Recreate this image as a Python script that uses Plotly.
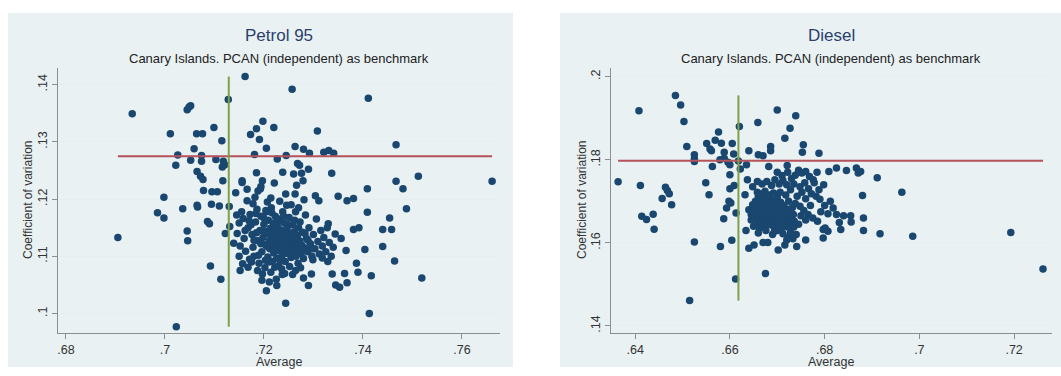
import plotly.graph_objects as go

# ---------------- data ----------------
petrol_avg_outer = [0.6905, 0.6934, 0.7045, 0.7049, 0.7052, 0.7162, 0.7128, 0.7257, 0.7411, 0.7011,
                    0.7064, 0.7076, 0.7099, 0.7115, 0.7198, 0.7185, 0.7173, 0.7191, 0.7220, 0.7308,
                    0.7205, 0.7263, 0.7280, 0.7292, 0.7321, 0.7331, 0.7341, 0.7467, 0.7059, 0.7074,
                    0.7026, 0.7052, 0.7074, 0.7022, 0.7103, 0.7118, 0.7121, 0.7116, 0.7065, 0.7072,
                    0.7077, 0.7078, 0.7117, 0.7095, 0.7106, 0.7181, 0.7227, 0.7245, 0.7268, 0.7272,
                    0.7276, 0.7260, 0.7238, 0.7185, 0.7156, 0.7156, 0.7197, 0.7194, 0.7221, 0.7290,
                    0.7266, 0.7279, 0.7337, 0.7143, 0.7166, 0.7188, 0.7193, 0.7244, 0.7263, 0.7304,
                    0.7311, 0.7281, 0.7350, 0.7381, 0.7368, 0.7409, 0.7467, 0.7481, 0.7512, 0.7661,
                    0.7488, 0.7409, 0.7454, 0.7440, 0.7458, 0.7440, 0.7464, 0.7404, 0.7392, 0.7381,
                    0.7387, 0.7390, 0.7417, 0.7519, 0.7413, 0.7244, 0.7205, 0.7023, 0.6998, 0.6985,
                    0.6998, 0.7036, 0.7045, 0.7046, 0.7065, 0.7066, 0.7094, 0.7110, 0.7130, 0.7086,
                    0.7090, 0.7122, 0.7131, 0.7092, 0.7113, 0.7152, 0.7299, 0.7290, 0.7296, 0.7318,
                    0.7329, 0.7338, 0.7345, 0.7353, 0.7363, 0.7368, 0.7344, 0.7356, 0.7366, 0.7330,
                    0.7237, 0.7226, 0.7211]
petrol_cv_outer = [0.1133, 0.1349, 0.1356, 0.1361, 0.1363, 0.1414, 0.1374, 0.1392, 0.1376, 0.1314,
                   0.1314, 0.1314, 0.1325, 0.1302, 0.1336, 0.1323, 0.1313, 0.1304, 0.1325, 0.1319,
                   0.1289, 0.1292, 0.1287, 0.1280, 0.1282, 0.1285, 0.1280, 0.1295, 0.1288, 0.1276,
                   0.1277, 0.1268, 0.1266, 0.1259, 0.1269, 0.1266, 0.1260, 0.1256, 0.1248, 0.1240,
                   0.1234, 0.1215, 0.1232, 0.1213, 0.1213, 0.1278, 0.1270, 0.1276, 0.1262, 0.1259,
                   0.1245, 0.1244, 0.1247, 0.1246, 0.1232, 0.1229, 0.1232, 0.1222, 0.1228, 0.1252,
                   0.1224, 0.1232, 0.1245, 0.1211, 0.1217, 0.1214, 0.1218, 0.1209, 0.1209, 0.1206,
                   0.1197, 0.1199, 0.1205, 0.1201, 0.1197, 0.1218, 0.1231, 0.1218, 0.1240, 0.1231,
                   0.1183, 0.1177, 0.1167, 0.1147, 0.1147, 0.1117, 0.1092, 0.1112, 0.1150, 0.1147,
                   0.1088, 0.1072, 0.1066, 0.1062, 0.1000, 0.1018, 0.1040, 0.0977, 0.1203, 0.1176,
                   0.1167, 0.1183, 0.1144, 0.1127, 0.1189, 0.1186, 0.1191, 0.1188, 0.1187, 0.1161,
                   0.1157, 0.1140, 0.1152, 0.1083, 0.1060, 0.1075, 0.1094, 0.1049, 0.1069, 0.1097,
                   0.1091, 0.1069, 0.1050, 0.1046, 0.1070, 0.1054, 0.1139, 0.1131, 0.1110, 0.1157,
                   0.1068, 0.1049, 0.1055]

petrol_avg_core = [0.7150, 0.7158, 0.7146, 0.7139, 0.7152, 0.7163, 0.7160, 0.7168, 0.7172, 0.7176,
                   0.7178, 0.7180, 0.7183, 0.7186, 0.7188, 0.7190, 0.7192, 0.7194, 0.7196, 0.7198,
                   0.7200, 0.7202, 0.7203, 0.7205, 0.7206, 0.7208, 0.7209, 0.7211, 0.7212, 0.7213,
                   0.7215, 0.7216, 0.7217, 0.7218, 0.7219, 0.7220, 0.7221, 0.7222, 0.7223, 0.7224,
                   0.7226, 0.7227, 0.7228, 0.7229, 0.7230, 0.7231, 0.7232, 0.7233, 0.7234, 0.7236,
                   0.7237, 0.7238, 0.7239, 0.7240, 0.7241, 0.7242, 0.7243, 0.7244, 0.7245, 0.7246,
                   0.7247, 0.7248, 0.7249, 0.7250, 0.7251, 0.7252, 0.7253, 0.7254, 0.7255, 0.7256,
                   0.7257, 0.7258, 0.7259, 0.7260, 0.7261, 0.7262, 0.7264, 0.7265, 0.7266, 0.7268,
                   0.7269, 0.7270, 0.7272, 0.7273, 0.7275, 0.7276, 0.7278, 0.7280, 0.7282, 0.7284,
                   0.7286, 0.7288, 0.7291, 0.7294, 0.7297, 0.7300, 0.7303, 0.7306, 0.7309, 0.7312,
                   0.7315, 0.7318, 0.7321, 0.7325, 0.7328, 0.7332, 0.7336, 0.7340,
                   0.7166, 0.7178, 0.7182, 0.7207, 0.7214, 0.7232, 0.7246, 0.7255, 0.7264, 0.7270,
                   0.7150, 0.7157, 0.7168, 0.7175, 0.7187, 0.7197, 0.7214, 0.7222, 0.7236, 0.7252,
                   0.7258, 0.7264, 0.7274, 0.7280, 0.7196, 0.7210, 0.7225, 0.7242,
                   0.7207, 0.7214, 0.7219, 0.7225, 0.7231, 0.7236, 0.7243, 0.7247, 0.7251, 0.7256,
                   0.7261, 0.7266, 0.7272, 0.7201, 0.7212, 0.7229, 0.7194, 0.7185, 0.7180, 0.7174,
                   0.7145, 0.7155, 0.7162, 0.7170, 0.7184, 0.7199, 0.7204, 0.7216, 0.7228, 0.7240,
                   0.7250, 0.7262, 0.7270, 0.7283, 0.7289, 0.7296, 0.7171, 0.7189, 0.7203, 0.7233]
petrol_cv_core = [0.1158, 0.1166, 0.1140, 0.1123, 0.1118, 0.1109, 0.1131, 0.1150, 0.1173, 0.1138,
                  0.1116, 0.1100, 0.1160, 0.1182, 0.1127, 0.1088, 0.1145, 0.1170, 0.1108, 0.1133,
                  0.1156, 0.1080, 0.1120, 0.1178, 0.1140, 0.1099, 0.1163, 0.1127, 0.1113, 0.1149,
                  0.1185, 0.1135, 0.1091, 0.1120, 0.1158, 0.1106, 0.1143, 0.1130, 0.1170, 0.1115,
                  0.1097, 0.1152, 0.1125, 0.1138, 0.1084, 0.1110, 0.1165, 0.1131, 0.1146, 0.1119,
                  0.1102, 0.1178, 0.1136, 0.1124, 0.1158, 0.1112, 0.1091, 0.1141, 0.1129, 0.1117,
                  0.1150, 0.1105, 0.1133, 0.1122, 0.1168, 0.1112, 0.1140, 0.1127, 0.1098, 0.1118,
                  0.1134, 0.1155, 0.1109, 0.1124, 0.1143, 0.1116, 0.1130, 0.1100, 0.1121, 0.1137,
                  0.1088, 0.1112, 0.1127, 0.1160, 0.1105, 0.1120, 0.1142, 0.1096, 0.1115, 0.1172,
                  0.1131, 0.1108, 0.1150, 0.1122, 0.1100, 0.1138, 0.1113, 0.1165, 0.1126, 0.1104,
                  0.1145, 0.1118, 0.1133, 0.1108, 0.1150, 0.1124, 0.1100, 0.1116,
                  0.1197, 0.1192, 0.1203, 0.1195, 0.1202, 0.1196, 0.1189, 0.1190, 0.1178, 0.1185,
                  0.1100, 0.1087, 0.1081, 0.1090, 0.1075, 0.1069, 0.1072, 0.1081, 0.1078, 0.1082,
                  0.1068, 0.1075, 0.1080, 0.1062, 0.1058, 0.1090, 0.1060, 0.1070,
                  0.1117, 0.1124, 0.1111, 0.1137, 0.1121, 0.1129, 0.1118, 0.1126, 0.1134, 0.1111,
                  0.1128, 0.1114, 0.1119, 0.1144, 0.1138, 0.1148, 0.1122, 0.1141, 0.1128, 0.1155,
                  0.1172, 0.1178, 0.1145, 0.1162, 0.1175, 0.1168, 0.1180, 0.1176, 0.1160, 0.1170,
                  0.1155, 0.1163, 0.1150, 0.1140, 0.1128, 0.1113, 0.1095, 0.1102, 0.1093, 0.1093]

diesel_avg_outer = [0.6364, 0.6408, 0.6411, 0.6414, 0.6424, 0.6438, 0.6440, 0.6457, 0.6464, 0.6468,
                    0.6472, 0.6477, 0.6485, 0.6496, 0.6503, 0.6509, 0.6525, 0.6525, 0.6525, 0.6525,
                    0.6515, 0.6549, 0.6551, 0.6556, 0.6558, 0.6561, 0.6563, 0.6569, 0.6576, 0.6582,
                    0.6587, 0.6580, 0.6588, 0.6588, 0.6579, 0.6596, 0.6600, 0.6600, 0.6605, 0.6608,
                    0.6600, 0.6609, 0.6593, 0.6598, 0.6602, 0.6613, 0.6604, 0.6612, 0.6620, 0.6618,
                    0.6622, 0.6635, 0.6640, 0.6637, 0.6632, 0.6634, 0.6640, 0.6651, 0.6660, 0.6670,
                    0.6659, 0.6660, 0.6670, 0.6680, 0.6675, 0.6700, 0.6739, 0.6727, 0.6716, 0.6686,
                    0.6686, 0.6682, 0.6721, 0.6755, 0.6753, 0.6788, 0.6702, 0.6716, 0.6720, 0.6741,
                    0.6760, 0.6797, 0.6797, 0.6801, 0.6807, 0.6818, 0.6809, 0.6825, 0.6825, 0.6831,
                    0.6834, 0.6846, 0.6867, 0.6871, 0.6876, 0.6880, 0.6882, 0.6882, 0.6911, 0.6917,
                    0.6963, 0.6986, 0.7193, 0.7261]
diesel_cv_outer = [0.1747, 0.1918, 0.1738, 0.1664, 0.1656, 0.1669, 0.1633, 0.1707, 0.1734, 0.1726,
                   0.1718, 0.1692, 0.1955, 0.1932, 0.1892, 0.1832, 0.1812, 0.1802, 0.1796, 0.1602,
                   0.1461, 0.1745, 0.1839, 0.1716, 0.1826, 0.1822, 0.1784, 0.1847, 0.1867, 0.1840,
                   0.1658, 0.1591, 0.1818, 0.1804, 0.1800, 0.1794, 0.1788, 0.1764, 0.1839, 0.1814,
                   0.1730, 0.1738, 0.1684, 0.1700, 0.1696, 0.1672, 0.1606, 0.1513, 0.1880, 0.1797,
                   0.1778, 0.1788, 0.1822, 0.1752, 0.1716, 0.1630, 0.1587, 0.1595, 0.1812, 0.1810,
                   0.1890, 0.1624, 0.1601, 0.1601, 0.1526, 0.1920, 0.1906, 0.1876, 0.1852, 0.1832,
                   0.1822, 0.1784, 0.1786, 0.1836, 0.1818, 0.1816, 0.1583, 0.1595, 0.1607, 0.1591,
                   0.1607, 0.1612, 0.1632, 0.1636, 0.1670, 0.1684, 0.1772, 0.1780, 0.1668, 0.1649,
                   0.1632, 0.1774, 0.1780, 0.1768, 0.1772, 0.1714, 0.1660, 0.1630, 0.1757, 0.1622,
                   0.1722, 0.1616, 0.1625, 0.1537]

diesel_avg_mid = [0.6700, 0.6710, 0.6722, 0.6730, 0.6738, 0.6745, 0.6752, 0.6760, 0.6768, 0.6776,
                  0.6784, 0.6778, 0.6735, 0.6748, 0.6758, 0.6766, 0.6772, 0.6782, 0.6790, 0.6752,
                  0.6742, 0.6760, 0.6728, 0.6720, 0.6712, 0.6704, 0.6695, 0.6688, 0.6678, 0.6668,
                  0.6658, 0.6648, 0.6738, 0.6748, 0.6756, 0.6765, 0.6775, 0.6785, 0.6770, 0.6792,
                  0.6760, 0.6750, 0.6745, 0.6735, 0.6728, 0.6740, 0.6733, 0.6725, 0.6712, 0.6690,
                  0.6700, 0.6650, 0.6645, 0.6800, 0.6788, 0.6798, 0.6812, 0.6840, 0.6855, 0.6856,
                  0.6807]
diesel_cv_mid = [0.1770, 0.1762, 0.1770, 0.1755, 0.1763, 0.1775, 0.1768, 0.1772, 0.1760, 0.1752,
                 0.1770, 0.1745, 0.1742, 0.1735, 0.1745, 0.1730, 0.1718, 0.1712, 0.1705, 0.1722,
                 0.1712, 0.1706, 0.1728, 0.1740, 0.1750, 0.1742, 0.1752, 0.1738, 0.1748, 0.1742,
                 0.1748, 0.1735, 0.1695, 0.1688, 0.1678, 0.1668, 0.1660, 0.1652, 0.1690, 0.1675,
                 0.1655, 0.1665, 0.1645, 0.1638, 0.1625, 0.1620, 0.1610, 0.1615, 0.1622, 0.1620,
                 0.1630, 0.1640, 0.1655, 0.1690, 0.1728, 0.1740, 0.1700, 0.1665, 0.1665, 0.1650,
                 0.1628]

diesel_avg_core = [0.6640, 0.6645, 0.6648, 0.6650, 0.6652, 0.6654, 0.6656, 0.6658, 0.6659, 0.6660,
                   0.6661, 0.6662, 0.6663, 0.6664, 0.6665, 0.6666, 0.6667, 0.6668, 0.6669, 0.6670,
                   0.6671, 0.6672, 0.6673, 0.6674, 0.6675, 0.6676, 0.6677, 0.6678, 0.6679, 0.6680,
                   0.6681, 0.6682, 0.6683, 0.6684, 0.6685, 0.6686, 0.6687, 0.6688, 0.6689, 0.6690,
                   0.6691, 0.6692, 0.6693, 0.6695, 0.6696, 0.6697, 0.6698, 0.6700, 0.6701, 0.6702,
                   0.6704, 0.6705, 0.6707, 0.6708, 0.6710, 0.6711, 0.6713, 0.6714, 0.6716, 0.6717,
                   0.6719, 0.6720, 0.6722, 0.6724, 0.6726, 0.6728, 0.6730, 0.6732, 0.6734, 0.6736,
                   0.6662, 0.6676, 0.6694, 0.6710, 0.6722, 0.6658, 0.6674, 0.6692, 0.6706, 0.6718]
diesel_cv_core = [0.1680, 0.1668, 0.1692, 0.1675, 0.1660, 0.1700, 0.1685, 0.1670, 0.1652, 0.1712,
                  0.1692, 0.1678, 0.1664, 0.1645, 0.1705, 0.1686, 0.1672, 0.1658, 0.1718, 0.1695,
                  0.1680, 0.1666, 0.1650, 0.1638, 0.1706, 0.1690, 0.1675, 0.1662, 0.1645, 0.1700,
                  0.1683, 0.1668, 0.1655, 0.1715, 0.1692, 0.1676, 0.1660, 0.1643, 0.1702, 0.1686,
                  0.1670, 0.1656, 0.1640, 0.1695, 0.1678, 0.1664, 0.1650, 0.1710, 0.1688, 0.1672,
                  0.1658, 0.1642, 0.1698, 0.1680, 0.1666, 0.1652, 0.1690, 0.1674, 0.1660, 0.1645,
                  0.1682, 0.1668, 0.1655, 0.1700, 0.1676, 0.1660, 0.1645, 0.1685, 0.1668, 0.1652,
                  0.1635, 0.1630, 0.1628, 0.1635, 0.1638, 0.1722, 0.1724, 0.1720, 0.1722, 0.1715]

# benchmark (PCAN) values
petrol_bench_avg = 0.7129
petrol_bench_cv = 0.1275
diesel_bench_avg = 0.6618
diesel_bench_cv = 0.1798

petrol_xticks = [0.68, 0.70, 0.72, 0.74, 0.76]
petrol_xlabels = [".68", ".7", ".72", ".74", ".76"]
petrol_yticks = [0.10, 0.11, 0.12, 0.13, 0.14]
petrol_ylabels = [".1", ".11", ".12", ".13", ".14"]
diesel_xticks = [0.64, 0.66, 0.68, 0.70, 0.72]
diesel_xlabels = [".64", ".66", ".68", ".7", ".72"]
diesel_yticks = [0.14, 0.16, 0.18, 0.20]
diesel_ylabels = [".14", ".16", ".18", ".2"]

titles = ["Petrol 95", "Diesel"]
subtitle = "Canary Islands. PCAN (independent) as benchmark"

# ---------------- styling ----------------
W, H = 1061, 376
FONT = "Liberation Sans, Arial, sans-serif"
NAVY = "#1a476f"
RED = "#b5525a"
GREEN = "#7ea04a"
BG = "#e9f1f3"
AXIS = "#8a8f94"
GRID = "#e6eef1"

def px(x):
    return x / W

def py(y):
    return 1 - y / H

petrol_x = petrol_avg_outer + petrol_avg_core
petrol_y = petrol_cv_outer + petrol_cv_core
diesel_x = diesel_avg_outer + diesel_avg_mid + diesel_avg_core
diesel_y = diesel_cv_outer + diesel_cv_mid + diesel_cv_core

fig = go.Figure()

panels = [
    dict(x=petrol_x, y=petrol_y, bx=petrol_bench_avg, by=petrol_bench_cv, xa="x", ya="y"),
    dict(x=diesel_x, y=diesel_y, bx=diesel_bench_avg, by=diesel_bench_cv, xa="x2", ya="y2"),
]
for p in panels:
    fig.add_trace(go.Scatter(x=p["x"], y=p["y"], mode="markers", xaxis=p["xa"], yaxis=p["ya"],
                             marker=dict(color=NAVY, size=7.5, line=dict(width=0)),
                             showlegend=False, hoverinfo="x+y"))
    fig.add_trace(go.Scatter(x=[min(p["x"]), max(p["x"])], y=[p["by"], p["by"]], mode="lines",
                             xaxis=p["xa"], yaxis=p["ya"], line=dict(color=RED, width=2),
                             showlegend=False, hoverinfo="skip"))
    fig.add_trace(go.Scatter(x=[p["bx"], p["bx"]], y=[min(p["y"]), max(p["y"])], mode="lines",
                             xaxis=p["xa"], yaxis=p["ya"], line=dict(color=GREEN, width=2),
                             showlegend=False, hoverinfo="skip"))

common_x = dict(showline=True, linecolor=AXIS, linewidth=1, ticks="outside", ticklen=5,
                tickcolor=AXIS, showgrid=False, zeroline=False,
                tickfont=dict(family=FONT, size=12.5, color="#333333"))
common_y = dict(showline=True, linecolor=AXIS, linewidth=1, ticks="outside", ticklen=5,
                tickcolor=AXIS, showgrid=True, gridcolor=GRID, gridwidth=1, zeroline=False,
                tickangle=-90, tickfont=dict(family=FONT, size=12.5, color="#333333"))

fig.update_layout(
    width=W, height=H, margin=dict(l=0, r=0, t=0, b=0),
    paper_bgcolor="white", plot_bgcolor="white", showlegend=False,
    xaxis=dict(domain=[px(58), px(500)], range=[0.6784, 0.7677], anchor="y",
               tickvals=petrol_xticks, ticktext=petrol_xlabels, **common_x),
    yaxis=dict(domain=[py(333), py(68)], range=[0.0966, 0.1429], anchor="x",
               tickvals=petrol_yticks, ticktext=petrol_ylabels, **common_y),
    xaxis2=dict(domain=[px(611), px(1052)], range=[0.6349, 0.7280], anchor="y2",
                tickvals=diesel_xticks, ticktext=diesel_xlabels, **common_x),
    yaxis2=dict(domain=[py(333), py(68)], range=[0.1383, 0.2021], anchor="x2",
                tickvals=diesel_yticks, ticktext=diesel_ylabels, **common_y),
    shapes=[
        dict(type="rect", xref="paper", yref="paper", x0=px(8), x1=px(513), y0=py(367), y1=py(13),
             fillcolor=BG, line=dict(width=0), layer="below"),
        dict(type="rect", xref="paper", yref="paper", x0=px(560), x1=px(1061), y0=py(367), y1=py(13),
             fillcolor=BG, line=dict(width=0), layer="below"),
    ],
)

annotations = []
for cx, ycx, ttl in [(279, 28, titles[0]), (831, 582, titles[1])]:
    annotations.append(dict(text=ttl, x=px(cx), y=py(36), xref="paper", yref="paper",
                            showarrow=False, xanchor="center", yanchor="middle",
                            font=dict(family=FONT, size=17, color="#2b3f6e")))
    annotations.append(dict(text=subtitle, x=px(cx), y=py(58), xref="paper", yref="paper",
                            showarrow=False, xanchor="center", yanchor="middle",
                            font=dict(family=FONT, size=13, color="#222222")))
    annotations.append(dict(text="Average", x=px(cx), y=py(362), xref="paper", yref="paper",
                            showarrow=False, xanchor="center", yanchor="middle",
                            font=dict(family=FONT, size=12.5, color="#333333")))
    annotations.append(dict(text="Coefficient of variation", x=px(ycx), y=py(200), xref="paper",
                            yref="paper", showarrow=False, textangle=-90, xanchor="center",
                            yanchor="middle", font=dict(family=FONT, size=12, color="#333333")))
fig.update_layout(annotations=annotations)

fig.write_html("out.html", config={"displayModeBar": False},
               post_script="document.body.style.margin='0';document.body.style.padding='0';")
